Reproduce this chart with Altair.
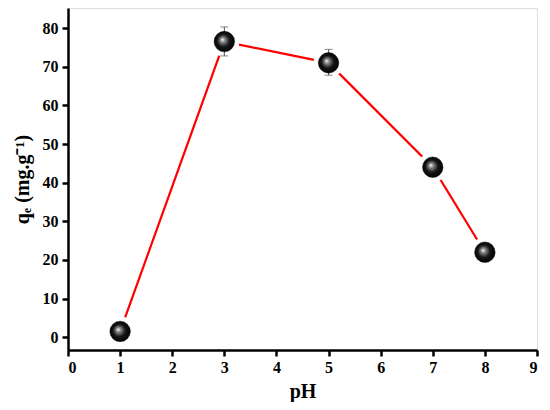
import altair as alt
import pandas as pd

ph = [1, 3, 5, 7, 8]
qe = [1.5, 76.5, 71.0, 44.0, 22.0]
err_lo = [0.5, 72.8, 67.8, 43.4, 21.5]
err_hi = [2.6, 80.3, 74.5, 44.6, 22.5]

df = pd.DataFrame({"pH": ph, "qe": qe, "lo": err_lo, "hi": err_hi})

font = "Liberation Serif"
xs = alt.Scale(domain=[0, 9], nice=False, zero=False)
ys = alt.Scale(domain=[-3.3, 85.2], nice=False, zero=False)

base = alt.Chart(df)

line = base.mark_line(color="#ff0000", strokeWidth=2.2).encode(
    x=alt.X("pH:Q", scale=xs,
            axis=alt.Axis(title="pH", values=list(range(0, 10)), format="d",
                          labelFont=font, labelFontWeight="bold", labelFontSize=16,
                          titleFont=font, titleFontWeight="bold", titleFontSize=20,
                          titleColor="black", labelColor="black",
                          domainColor="black", domainWidth=2.5,
                          tickColor="black", tickWidth=2.5, tickSize=6,
                          grid=False, labelPadding=3, titlePadding=6)),
    y=alt.Y("qe:Q", scale=ys,
            axis=alt.Axis(title="qₑ (mg.g⁻¹)", values=list(range(0, 81, 10)), format="d",
                          labelFont=font, labelFontWeight="bold", labelFontSize=16,
                          titleFont=font, titleFontWeight="bold", titleFontSize=20,
                          titleColor="black", labelColor="black",
                          domainColor="black", domainWidth=2.5,
                          tickColor="black", tickWidth=2.5, tickSize=6,
                          grid=False, labelPadding=4, titlePadding=10)),
)

halo = base.mark_point(filled=True, color="white", opacity=1, size=900, shape="circle").encode(
    x="pH:Q", y="qe:Q")

errs = base.mark_rule(color="#555555", strokeWidth=1).encode(
    x="pH:Q", y="lo:Q", y2="hi:Q")
cap_lo = base.mark_tick(color="#555555", thickness=1, size=8, orient="horizontal").encode(
    x="pH:Q", y="lo:Q")
cap_hi = base.mark_tick(color="#555555", thickness=1, size=8, orient="horizontal").encode(
    x="pH:Q", y="hi:Q")

grad = alt.Gradient(
    gradient="radial",
    stops=[alt.GradientStop(color="#ffffff", offset=0),
           alt.GradientStop(color="#8a8a8a", offset=0.2),
           alt.GradientStop(color="#151515", offset=0.55),
           alt.GradientStop(color="#000000", offset=1)],
    x1=0.4, y1=0.4, r1=0, x2=0.5, y2=0.5, r2=0.55,
)

pts = base.mark_point(filled=True, fill=grad, stroke="black", strokeWidth=0.5,
                      opacity=1, size=420, shape="circle").encode(
    x="pH:Q", y="qe:Q")

chart = alt.layer(line, halo, errs, cap_lo, cap_hi, pts).properties(
    width=469, height=342,
    autosize=alt.AutoSizeParams(type="none"),
    padding={"left": 60, "top": 0, "right": 5, "bottom": 52},
).configure_view(stroke="black", strokeWidth=2.5).configure(background="white")

chart.save("out.html", embed_options={"renderer": "svg", "actions": False})
